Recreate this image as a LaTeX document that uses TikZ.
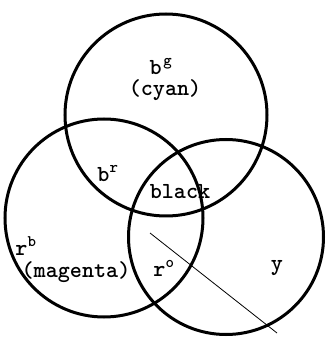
\documentclass[tikz,border=0pt]{standalone}
\usepackage{fontspec}
\usetikzlibrary{positioning}
\begin{document}
\begin{tikzpicture}[x=1pt, y=1pt,
  ring/.style={draw, circle, line width=3pt, inner sep=0pt},
  lbl/.style={font=\fontsize{23}{19}\selectfont\ttfamily\bfseries, inner sep=0pt}]

  \useasboundingbox (0,0) rectangle (328,338);

  % -------------------------
  % Drie cirkels
  % -------------------------
  \node[ring, minimum size=202pt] (cyanring) at (166,223) {};
  \node[ring, minimum size=198pt] (magring) at (104,120) {};
  \node[ring, minimum size=195pt] (yelring) at (226,101) {};

  % -------------------------
  % Teksten
  % -------------------------
  \node[lbl] (cyan) at (165,248) {(cyan)};
  \node[lbl, above=4pt of cyan, xshift=-4pt] (bg) {b\kern1.5pt\textsuperscript{g}};
  \node[lbl] (br) at (108,164) {b\textsuperscript{r}};
  \node[lbl] (black) at (180,146) {black};
  \node[lbl] (rb) at (26,92) {r\textsuperscript{b}};
  \node[lbl] (magenta) at (76,66) {(magenta)};
  \node[lbl] (ro) at (164,70) {r\textsuperscript{o}};
  \node[lbl] (y) at (277,70) {y};

  % schuine lijn
  \coordinate (lstart) at (150,105);
  \coordinate (lend) at (277,5);
  \draw[line width=0.8pt] (lstart) -- (lend);

\end{tikzpicture}
\end{document}
